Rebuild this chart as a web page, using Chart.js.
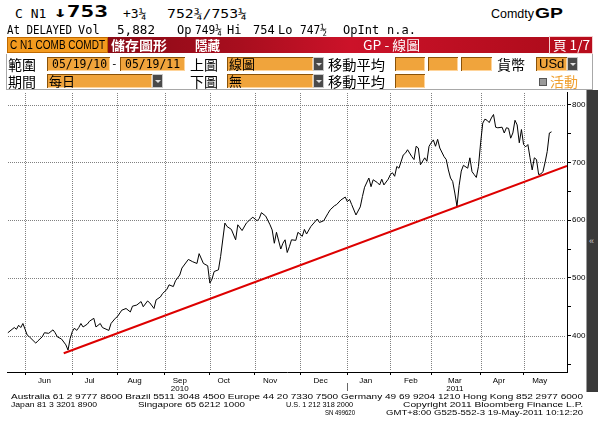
<!DOCTYPE html>
<html><head><meta charset="utf-8">
<script src="https://cdn.jsdelivr.net/npm/chart.js@4.4.1/dist/chart.umd.min.js"></script>
<style>
html,body{margin:0;padding:0;background:#fff;}
#page{position:relative;width:600px;height:430px;overflow:hidden;background:#fff;}
.t{position:absolute;white-space:nowrap;line-height:1;z-index:3;}
.mono{font-family:"DejaVu Sans Mono","Liberation Mono",monospace;}
.cjk{font-family:"Noto Sans CJK TC","Noto Sans CJK SC",sans-serif;}
.sans{font-family:"Liberation Sans",Arial,sans-serif;}
.box{position:absolute;background:#f0a43c;box-shadow:inset 1px 1px 0 #8a5208, inset -1px -1px 0 #ffd49a;z-index:2;}
.dd{position:absolute;background:#4a4a4a;border:1px solid #c8c8c8;box-sizing:border-box;z-index:2;}
.dd:after{content:"";position:absolute;left:2px;top:5px;border-left:3px solid transparent;border-right:3px solid transparent;border-top:3px solid #e0e0e0;}
.ft{font-family:"Liberation Sans",Arial,sans-serif;font-size:8px;line-height:8px;color:#000;}
.lab{font-size:14px;line-height:16px;color:#000;}
.inp{font-size:12px;line-height:14px;color:#000;}
#c{position:absolute;left:0;top:86px;}
</style></head>
<body>
<div id="page">
<canvas id="c" width="600" height="310"></canvas>
<!-- row 1 -->
<div class="t mono" style="left:15px;top:7px;font-size:13px">C N1</div>
<div class="t mono fit" data-w="55" style="left:53px;top:5px;font-size:15px;font-weight:bold">↓753</div>
<div class="t mono" style="left:123px;top:7px;font-size:13px">+3¼</div>
<div class="t mono fit" data-w="80" style="left:167px;top:7px;font-size:13px">752¾/753¼</div>
<div class="t sans fit" data-w="43" style="left:491px;top:7px;font-size:13px">Comdty</div>
<div class="t sans fit" data-w="28" style="left:535px;top:5px;font-size:15px;font-weight:bold">GP</div>
<!-- row 2 -->
<div class="t mono fit" data-w="65" style="left:7px;top:24px;font-size:12px">At DELAYED</div>
<div class="t mono" style="left:78px;top:24px;font-size:12px">Vol</div>
<div class="t mono fit" data-w="38" style="left:117px;top:24px;font-size:12px">5,882</div>
<div class="t mono" style="left:177px;top:24px;font-size:12px">Op</div>
<div class="t mono fit" data-w="27" style="left:195px;top:24px;font-size:12px">749¼</div>
<div class="t mono" style="left:227px;top:24px;font-size:12px">Hi</div>
<div class="t mono" style="left:253px;top:24px;font-size:12px">754</div>
<div class="t mono" style="left:278px;top:24px;font-size:12px">Lo</div>
<div class="t mono fit" data-w="27" style="left:300px;top:24px;font-size:12px">747½</div>
<div class="t mono" style="left:343px;top:24px;font-size:12px">OpInt</div>
<div class="t mono" style="left:387px;top:24px;font-size:12px">n.a.</div>
<!-- row 3 -->
<div style="position:absolute;left:7px;top:37px;width:101px;height:16px;background:#f39a1e;box-shadow:inset 0 0 0 1px #c06a00;z-index:2"></div>
<div class="t sans fit" data-w="95" style="left:10px;top:39px;font-size:12px;line-height:13px">C N1 COMB COMDT</div>
<div style="position:absolute;left:108px;top:37px;width:441px;height:16px;background:linear-gradient(90deg,#8a0a16 0%,#a80e1e 30%,#cc1229 55%,#b00c1c 100%);z-index:2"></div>
<div class="t cjk fit" data-w="56" style="left:111px;top:37px;font-size:13px;line-height:15px;color:#fff;font-weight:bold">儲存圖形</div>
<div class="t cjk fit" data-w="25" style="left:195px;top:37px;font-size:13px;line-height:15px;color:#fff;font-weight:bold">隱藏</div>
<div class="t cjk fit" data-w="57" style="left:363px;top:37px;font-size:13px;line-height:15px;color:#fff">GP - 線圖</div>
<div style="position:absolute;left:549px;top:36px;width:44px;height:18px;background:#b80c1c;border:1px solid #f4d0d0;box-sizing:border-box;z-index:2"></div>
<div class="t cjk fit" data-w="37" style="left:553px;top:37px;font-size:13px;line-height:15px;color:#fff">頁 1/7</div>
<!-- rows 4-5 panel -->
<div style="position:absolute;left:6px;top:54px;width:587px;height:36px;border:1px solid #a8a8a8;border-top:none;box-sizing:border-box;"></div>
<div class="t cjk lab" style="left:8px;top:56px">範圍</div>
<div class="box" style="left:47px;top:57px;width:63px;height:14px"></div>
<div class="t mono inp fit" data-w="55" style="left:52px;top:57px">05/19/10</div>
<div class="t mono" style="left:111px;top:58px;font-size:11px">-</div>
<div class="box" style="left:120px;top:57px;width:65px;height:14px"></div>
<div class="t mono inp fit" data-w="55" style="left:125px;top:57px">05/19/11</div>
<div class="t cjk lab" style="left:190px;top:56px">上圖</div>
<div class="box" style="left:227px;top:57px;width:86px;height:14px"></div>
<div class="t cjk" style="left:229px;top:56px;font-size:13px;line-height:16px">線圖</div>
<div class="dd" style="left:313px;top:57px;width:11px;height:14px"></div>
<div class="t cjk lab fit" data-w="57" style="left:328px;top:56px">移動平均</div>
<div class="box" style="left:395px;top:57px;width:30px;height:14px"></div>
<div class="box" style="left:428px;top:57px;width:30px;height:14px"></div>
<div class="box" style="left:461px;top:57px;width:31px;height:14px"></div>
<div class="t cjk lab" style="left:497px;top:56px">貨幣</div>
<div class="box" style="left:536px;top:57px;width:31px;height:14px"></div>
<div class="t sans inp" style="left:539px;top:57px;font-size:13px">USd</div>
<div class="dd" style="left:567px;top:57px;width:11px;height:14px"></div>

<div class="t cjk lab" style="left:8px;top:73px">期間</div>
<div class="box" style="left:47px;top:74px;width:105px;height:14px"></div>
<div class="t cjk" style="left:49px;top:73px;font-size:13px;line-height:16px">每日</div>
<div class="dd" style="left:152px;top:74px;width:11px;height:14px"></div>
<div class="t cjk lab" style="left:190px;top:73px">下圖</div>
<div class="box" style="left:227px;top:74px;width:86px;height:14px"></div>
<div class="t cjk" style="left:229px;top:73px;font-size:13px;line-height:16px">無</div>
<div class="dd" style="left:313px;top:74px;width:11px;height:14px"></div>
<div class="t cjk lab fit" data-w="57" style="left:328px;top:73px">移動平均</div>
<div class="box" style="left:395px;top:74px;width:30px;height:14px"></div>
<div style="position:absolute;left:539px;top:78px;width:8px;height:8px;background:#9a9a9a;border:1px solid #555;box-sizing:border-box;z-index:2"></div>
<div class="t cjk" style="left:550px;top:73px;font-size:14px;line-height:16px;color:#f0a030">活動</div>

<!-- right strip -->
<div style="position:absolute;left:586px;top:90px;width:12px;height:302px;background:#3a3a3a;border-left:1px solid #9a9a9a;box-sizing:border-box;z-index:3"></div>
<div class="t sans" style="left:589px;top:237px;font-size:9px;color:#cfcfcf;z-index:4">«</div>

<!-- footer -->
<div class="t ft fit" data-w="572" style="left:11px;top:393px">Australia 61 2 9777 8600 Brazil 5511 3048 4500 Europe 44 20 7330 7500 Germany 49 69 9204 1210 Hong Kong 852 2977 6000</div>
<div class="t ft fit" data-w="86" style="left:11px;top:401px">Japan 81 3 3201 8900</div>
<div class="t ft fit" data-w="107" style="left:138px;top:401px">Singapore 65 6212 1000</div>
<div class="t ft fit" data-w="67" style="left:286px;top:401px">U.S. 1 212 318 2000</div>
<div class="t ft fit" data-w="180" style="left:403px;top:401px">Copyright 2011 Bloomberg Finance L.P.</div>
<div class="t ft fit" data-w="30" style="left:325px;top:409px">SN 499620</div>
<div class="t ft fit" data-w="197" style="left:386px;top:409px">GMT+8:00 G525-552-3 19-May-2011 10:12:20</div>
</div>

<script>
// ---- data (trading-day index from 19 May 2010, price in US cents/bu) ----
const dayIdx = [0,3,4,5,6,7,8,9,10,13,14,16,17,19,21,22,23,25,27,28,29,30,31,32,33,34,35,37,38,40,41,43,44,47,48,50,51,53,55,57,58,60,62,63,65,66,68,69,71,72,74,75,77,78,80,81,84,86,88,89,91,93,94,95,96,98,99,101,102,104,106,107,109,111,113,114,116,117,118,120,122,123,124,125,127,128,129,130,131,132,134,135,137,138,139,141,144,145,147,149,150,152,153,155,157,158,159,160,162,164,165,166,168,169,170,172,173,174,175,177,178,179,180,181,182,184,185,186,188,189,190,191,192,194,195,196,197,198,199,200,201,203,204,205,206,207,208,209,210,211,212,214,215,216,217,218,219,220,221,222,223,224,225,226,227,228,230,231,232,233,234,235,236,237,238,239,240,241,242,243,244,245,246,247,248,249,250,251,252,253];
const prices = [405,414,411,418,414,421,411,401,398,387,391,398,405,404,410,405,398,394,384,375,395,407,413,409,414,421,415,420,425,430,415,421,414,409,421,430,433,444,447,441,451,453,459,450,460,457,447,462,467,473,480,488,485,495,505,517,532,528,525,542,525,521,491,498,511,514,537,595,589,584,566,592,582,595,602,605,599,603,613,607,592,583,560,579,550,560,566,544,554,566,565,579,572,584,576,589,602,596,599,612,618,625,627,635,640,632,636,627,609,623,641,657,673,658,670,665,661,671,661,671,679,682,676,693,690,713,716,722,710,705,728,725,696,708,702,728,734,739,728,740,725,710,705,687,673,667,647,624,660,685,695,690,708,684,679,674,693,734,768,775,773,769,777,783,761,760,761,751,760,759,742,751,773,765,734,757,731,727,731,708,687,708,705,679,680,684,700,719,751,753];
const trendDays = [26, 260.2];
const trendValues = [369.5, 694];
const gridDays = [8,30,51,73,94,115,136,158,178,197,220,240];      // first trading day of each month
const labelDays = [17,38,59,80,100.5,122,145.5,166.5,187.5,208,228.5,247.5];
const monthLabels = ['Jun','Jul','Aug','Sep','Oct','Nov','Dec','Jan','Feb','Mar','Apr','May'];
const yearLabels = {Sep:'2010', Mar:'2011'};
const yTicks = [350,400,450,500,550,600,650,700,750,800];
const yearBreakDay = 158;

function fit(){
  document.querySelectorAll('.fit').forEach(el=>{
    const w = parseFloat(el.dataset.w);
    const nat = el.getBoundingClientRect().width;
    if (nat>0){ el.style.transformOrigin='left center'; el.style.transform='scaleX('+(w/nat)+')'; }
  });
}
fit();

// dotted grid + year separator, positioned through the chart's own scales
const dotGrid = {
  id:'dotGrid',
  beforeDatasetsDraw(chart){
    const {ctx, chartArea:a, scales} = chart;
    ctx.save();
    ctx.fillStyle = '#808080';
    gridDays.forEach(d=>{
      const x = Math.round(scales.x.getPixelForValue(d));
      for (let y = Math.round(a.top)+1; y < a.bottom-1; y += 2) ctx.fillRect(x, y, 1, 1);
    });
    yTicks.filter(v=>v%100===0).forEach(v=>{
      const y = Math.round(scales.y.getPixelForValue(v));
      for (let x = Math.round(a.left)+1; x < a.right-1; x += 2) ctx.fillRect(x, y, 1, 1);
    });
    ctx.restore();
  },
  afterDraw(chart){
    const {ctx, chartArea:a, scales} = chart;
    const xs = Math.round(scales.x.getPixelForValue(yearBreakDay));
    ctx.save(); ctx.fillStyle = '#666'; ctx.fillRect(xs, a.bottom+11, 1, 8); ctx.restore();
  }
};

new Chart(document.getElementById('c'), {
  type:'line',
  data:{datasets:[
    {label:'Trend', data: trendDays.map((d,i)=>({x:d,y:trendValues[i]})), borderColor:'#dd0000', borderWidth:2, pointRadius:0, xAxisID:'x', yAxisID:'y'},
    {label:'C N1', data: dayIdx.map((d,i)=>({x:d,y:prices[i]})), borderColor:'#000', borderWidth:1, pointRadius:0, tension:0, xAxisID:'x', yAxisID:'y'}
  ]},
  options:{
    responsive:false, animation:false, devicePixelRatio:1,
    layout:{padding:{left:7,top:6,right:0,bottom:0}},
    plugins:{legend:{display:false}, tooltip:{enabled:false}},
    scales:{
      x:{type:'linear', position:'bottom', weight:0, min:-0.4, max:260.2,
        afterBuildTicks: s=>{ s.ticks = gridDays.map(v=>({value:v})); },
        ticks:{display:false},
        grid:{drawOnChartArea:false, color:'#000', tickColor:'#000', tickLength:3, lineWidth:1},
        border:{display:true, color:'#000', width:1},
        afterFit: s=>{ s.height = 4; }
      },
      x2:{type:'linear', position:'bottom', weight:1, min:-0.4, max:260.2,
        afterBuildTicks: s=>{ s.ticks = labelDays.map(v=>({value:v})); },
        ticks:{autoSkip:false, maxRotation:0, minRotation:0, padding:0, color:'#000',
          font:{family:'Liberation Sans', size:8, lineHeight:1.1},
          callback:(v,i)=> yearLabels[monthLabels[i]] ? [monthLabels[i], yearLabels[monthLabels[i]]] : monthLabels[i]},
        grid:{display:false, drawTicks:false}, border:{display:false},
        afterFit: s=>{ s.height = 20; }
      },
      y:{type:'linear', position:'right', min:337, max:822,
        afterBuildTicks: s=>{ s.ticks = yTicks.map(v=>({value:v})); },
        ticks:{padding:1, color:'#000', font:{family:'Liberation Sans', size:8}, callback:v=> v%100===0 ? String(v) : ''},
        grid:{drawOnChartArea:false, color:'#000', tickColor:'#000', tickLength:4},
        border:{display:true, color:'#000', width:1},
        afterFit: s=>{ s.width = 33; }
      }
    }
  },
  plugins:[dotGrid]
});
</script>
</body></html>
